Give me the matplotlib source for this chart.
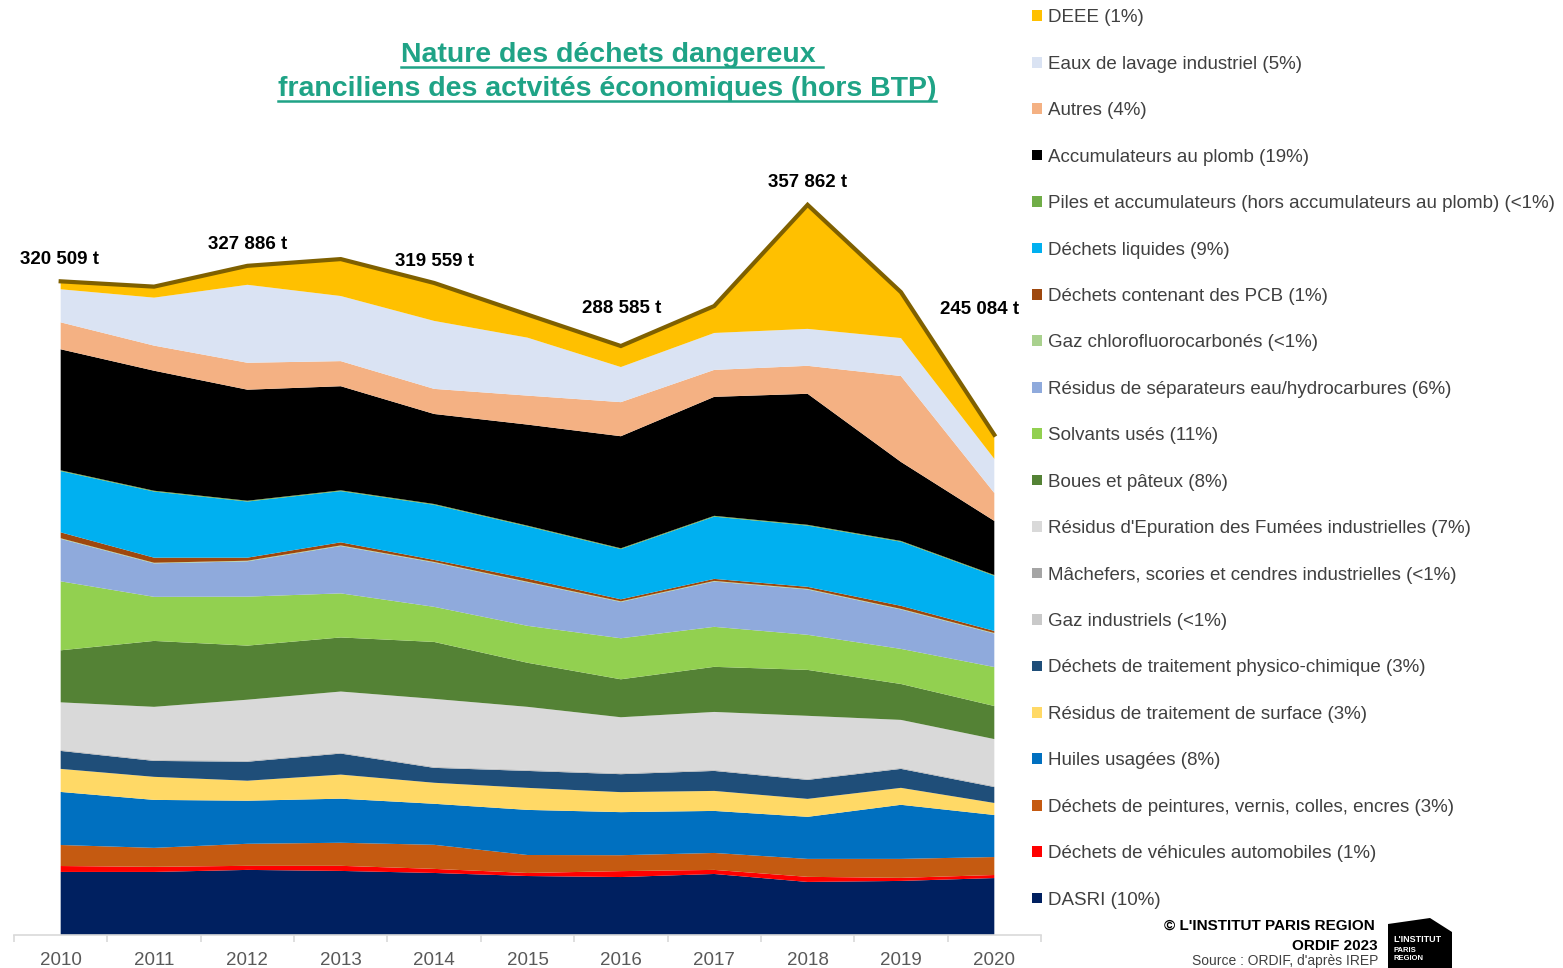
import matplotlib
matplotlib.use("Agg")
import matplotlib.pyplot as plt
from matplotlib.patches import Patch, Polygon
from matplotlib.lines import Line2D

plt.rcParams["font.family"] = ["Liberation Sans", "DejaVu Sans"]

years = list(range(2010, 2021))

# tonnages, stacked from the bottom up
dasri = [30900, 30900, 31900, 31400, 30400, 28900, 28400, 29900, 26000, 26500, 27900]
vehicules = [2900, 2500, 2000, 2500, 2000, 1500, 2900, 2000, 2500, 1500, 1500]
peintures = [10300, 9300, 10800, 11300, 11800, 8800, 7800, 8300, 8800, 9300, 8800]
huiles = [26000, 23500, 21100, 21600, 20100, 22100, 21100, 20600, 20600, 26500, 20600]
surface = [11300, 11300, 9800, 11800, 10300, 10800, 9800, 9800, 8800, 8300, 5900]
physico = [8800, 7800, 9300, 10300, 7300, 8300, 8800, 9800, 9300, 9300, 7800]
gaz_ind = [200, 200, 200, 200, 200, 200, 200, 200, 200, 200, 200]
machefers = [300, 300, 300, 300, 300, 300, 300, 300, 300, 300, 300]
refiom = [23300, 26000, 29900, 29900, 33300, 30900, 27400, 28400, 30900, 23500, 23000]
boues = [25500, 32300, 26500, 26500, 27900, 21600, 18600, 22100, 22500, 17600, 16200]
solvants = [33800, 21600, 24000, 21600, 17200, 18100, 20100, 19600, 17200, 17200, 19100]
separateurs = [20800, 16400, 17300, 23200, 21700, 21300, 17800, 22200, 22200, 19300, 16400]
cfc = [300, 300, 300, 300, 300, 300, 300, 300, 300, 300, 300]
pcb = [2900, 2500, 1500, 1500, 1000, 1500, 1000, 1000, 1000, 1500, 1000]
liquides = [30000, 32400, 27500, 25100, 27000, 25600, 24600, 30500, 30000, 31400, 27000]
piles = [400, 400, 400, 400, 400, 400, 400, 400, 400, 400, 400]
accumulateurs = [59300, 58800, 54400, 51000, 44100, 49500, 54900, 58300, 64200, 38700, 26500]
autres = [13200, 12300, 13200, 12300, 12300, 14200, 16700, 13200, 13700, 42100, 13700]
eaux_lavage = [16200, 23500, 38200, 31900, 33300, 28400, 17200, 18100, 18100, 18600, 16700]
deee = [3900, 5400, 9300, 18100, 18600, 11300, 10300, 13200, 60800, 22500, 11800]

series = [dasri, vehicules, peintures, huiles, surface, physico, gaz_ind, machefers,
          refiom, boues, solvants, separateurs, cfc, pcb, liquides, piles,
          accumulateurs, autres, eaux_lavage, deee]

labels = [
    "DASRI (10%)",
    "Déchets de véhicules automobiles (1%)",
    "Déchets de peintures, vernis, colles, encres (3%)",
    "Huiles usagées (8%)",
    "Résidus de traitement de surface (3%)",
    "Déchets de traitement physico-chimique (3%)",
    "Gaz industriels (<1%)",
    "Mâchefers, scories et cendres industrielles (<1%)",
    "Résidus d'Epuration des Fumées industrielles (7%)",
    "Boues et pâteux (8%)",
    "Solvants usés (11%)",
    "Résidus de séparateurs eau/hydrocarbures (6%)",
    "Gaz chlorofluorocarbonés (<1%)",
    "Déchets contenant des PCB (1%)",
    "Déchets liquides (9%)",
    "Piles et accumulateurs (hors accumulateurs au plomb) (<1%)",
    "Accumulateurs au plomb (19%)",
    "Autres (4%)",
    "Eaux de lavage industriel (5%)",
    "DEEE (1%)",
]

colors = ["#002060", "#FF0000", "#C55A11", "#0070C0", "#FFD966", "#1F4E79",
          "#C9C9C9", "#A5A5A5", "#D9D9D9", "#548235", "#92D050", "#8FAADC",
          "#A9D18E", "#9E480E", "#00B0F0", "#70AD47", "#000000", "#F4B183",
          "#DAE3F3", "#FFC000"]

# published totals shown above the curve
label_years = [2010, 2012, 2014, 2016, 2018, 2020]
label_totals = [320509, 327886, 319559, 288585, 357862, 245084]

W, H = 1563, 968
fig = plt.figure(figsize=(W / 100, H / 100), dpi=100)

# axes placed in pixel terms: x axis line from 14 to 1041, baseline at y=935
ymax = 400000
px_per_t = 1 / 490
ax_h = ymax * px_per_t
ax = fig.add_axes([14 / W, (H - 935) / H, 1027 / W, ax_h / H])

ax.stackplot(years, *series, colors=colors, labels=labels, linewidth=0)

totals = [sum(s[i] for s in series) for i in range(len(years))]
ax.plot(years, totals, color="#7F6000", linewidth=3, solid_joinstyle="miter")

ax.set_xlim(2009.5, 2020.5)
ax.set_ylim(0, ymax)
for side in ["top", "right", "left"]:
    ax.spines[side].set_visible(False)
ax.spines["bottom"].set_color("#D9D9D9")
ax.spines["bottom"].set_linewidth(1.2)
ax.set_yticks([])
ax.set_xticks(years)
ax.set_xticklabels([str(y) for y in years])
ax.set_xticks([y - 0.5 for y in years] + [2020.5], minor=True)
ax.tick_params(axis="x", which="major", length=0, pad=12, labelsize=13.5,
               labelcolor="#595959")
ax.tick_params(axis="x", which="minor", length=5, color="#D9D9D9", width=1.2)

# total labels, offsets in pixels (dx, dy)
label_offsets = {2010: (-1, 21), 2012: (0, 21), 2014: (0, 21),
                 2016: (1, 38), 2018: (0, 22), 2020: (-15, 125)}
for yr, tot in zip(label_years, label_totals):
    dx, dy = label_offsets[yr]
    txt = f"{tot:,}".replace(",", " ") + " t"
    ax.annotate(txt, (yr, tot), xytext=(dx * 0.72, dy * 0.72),
                textcoords="offset points", ha="center", va="center",
                fontsize=13.5, fontweight="bold", color="black")

# title, underlined
title_color = "#1FA386"
t1 = fig.text(612 / W, 1 - 55 / H, "Nature des déchets dangereux ",
              ha="center", va="center", fontsize=20.5, fontweight="bold",
              color=title_color)
t2 = fig.text(607 / W, 1 - 89 / H,
              "franciliens des actvités économiques (hors BTP)",
              ha="center", va="center", fontsize=20.5, fontweight="bold",
              color=title_color)

# legend on the right, top entry is the top of the stack
handles = [Patch(facecolor=c, edgecolor="none") for c in colors][::-1]
leg = fig.legend(handles, labels[::-1], loc="upper left",
                 bbox_to_anchor=(1023 / W, 1.0), frameon=False,
                 fontsize=13.5, handlelength=0.5, handleheight=0.5,
                 handletextpad=0.35, labelspacing=1.57, borderpad=0)
for t in leg.get_texts():
    t.set_color("#404040")

# footer
fig.text(1375 / W, 1 - 926 / H, "© L'INSTITUT PARIS REGION", ha="right",
         va="center", fontsize=11, fontweight="bold", color="black")
fig.text(1378 / W, 1 - 946 / H, "ORDIF 2023", ha="right", va="center",
         fontsize=11, fontweight="bold", color="black")
fig.text(1378 / W, 1 - 961 / H, "Source : ORDIF, d'après IREP", ha="right",
         va="center", fontsize=10, color="#404040")

logo = [(1388, 924), (1430, 918), (1452, 932), (1452, 968), (1388, 968)]
fig.patches.append(Polygon([(x / W, 1 - y / H) for x, y in logo], closed=True,
                           facecolor="black", edgecolor="none",
                           transform=fig.transFigure, figure=fig))
fig.text(1393 / W, 1 - 940 / H, "L'INSTITUT", ha="left", va="center",
         fontsize=6.5, fontweight="bold", color="white")
fig.text(1393 / W, 1 - 951 / H, "PARIS", ha="left", va="center",
         fontsize=5.5, fontweight="bold", color="white")
fig.text(1393 / W, 1 - 959 / H, "REGION", ha="left", va="center",
         fontsize=5.5, fontweight="bold", color="white")

# underline the title lines
fig.canvas.draw()
renderer = fig.canvas.get_renderer()
for t in (t1, t2):
    bb = t.get_window_extent(renderer)
    y = bb.y0 + 1
    fig.lines.append(Line2D([bb.x0 / W, bb.x1 / W], [y / H, y / H],
                            transform=fig.transFigure, color=title_color,
                            linewidth=1.8))

fig.savefig("out.png", dpi=100)
